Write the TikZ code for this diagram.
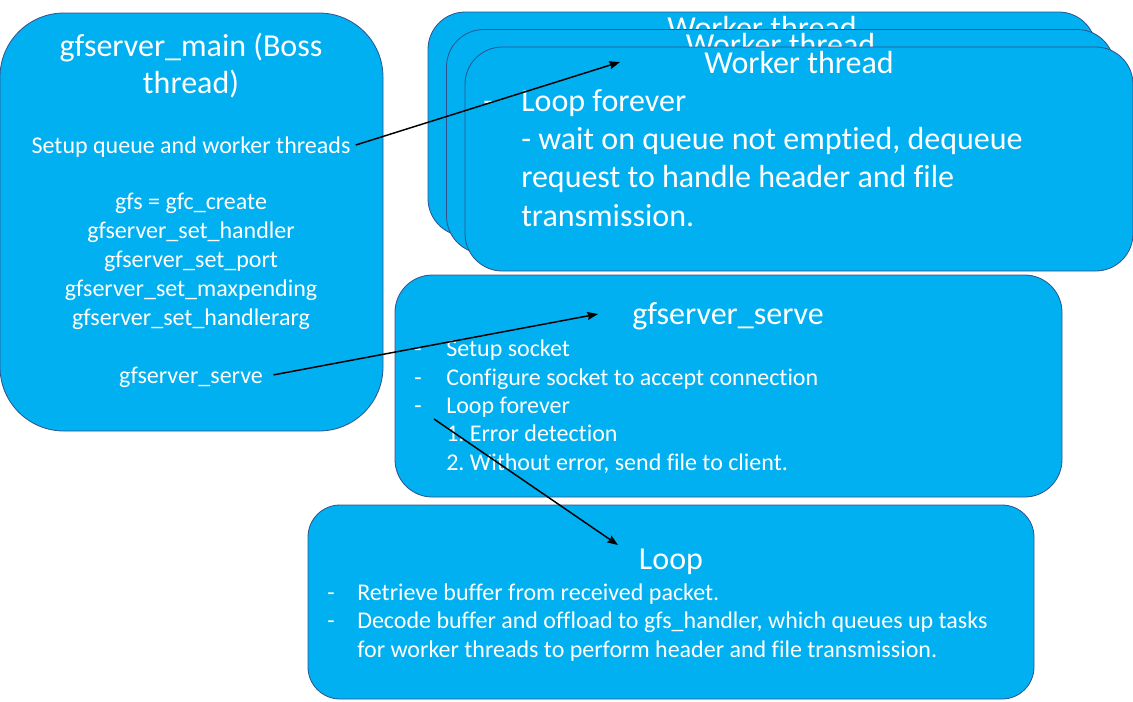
\documentclass[tikz,border=0pt]{standalone}
\usepackage{fontspec}
\setmainfont{Carlito}[Ligatures=NoCommon]
\usetikzlibrary{arrows.meta}
\definecolor{skyblue}{HTML}{00B0F0}
\definecolor{edgeblue}{HTML}{2F528F}
\begin{document}
\begin{tikzpicture}[x=0.75pt,y=-0.75pt,>={Stealth[length=8pt,width=6pt,inset=1pt]},
  box/.style={fill=skyblue,draw=edgeblue,line width=0.6pt},
  head/.style={text=white,inner sep=0pt,font=\fontsize{24}{27.75}\selectfont,align=center,anchor=base},
  item/.style={text=white,inner sep=0pt,font=\fontsize{18}{21.6}\selectfont,anchor=base west},
  bigitem/.style={text=white,inner sep=0pt,font=\fontsize{24}{28.7}\selectfont,anchor=base west,align=left}]
\useasboundingbox (0,0) rectangle (1133,701);
% boss thread (base anchor of a multi-line node sits on its last line)
\draw[box,rounded corners=48pt] (0,13) rectangle (383,431);
\node[head] (bosshead) at (191,93) {gfserver\_main (Boss\\thread)};
\node[item,anchor=base] (setup) at (191,153) {Setup queue and worker threads};
\node[item,anchor=base,align=center] (calls) at (191,325) {gfs = gfc\_create\\gfserver\_set\_handler\\gfserver\_set\_port\\gfserver\_set\_maxpending\\gfserver\_set\_handlerarg};
\node[item,anchor=base] (serve) at (191,383) {gfserver\_serve};
% worker threads, stacked
\foreach \d/\n in {0/back,1/mid,2/front}{
  \draw[box,rounded corners=28pt] (428+18.5*\d,12+17.5*\d) rectangle ++(668,224);
  \node[head] (worker\n) at (762+18.5*\d,38+17.5*\d) {Worker thread};
}
\node[bigitem] (wdash) at (483,111) {-};
\node[bigitem] (wloop) at (521,226) {Loop forever\\- wait on queue not emptied, dequeue\\request to handle header and file\\transmission.};
% gfserver_serve
\draw[box,rounded corners=28pt] (395,275) rectangle (1062,497);
\node[head] (servehead) at (728,324) {gfserver\_serve};
\foreach \y in {356,385,413} \node[item] at (414,\y) {-};
\node[item] (sock) at (446,356) {Setup socket};
\node[item] (conf) at (446,385) {Configure socket to accept connection};
\node[item] (sloop) at (446,413) {Loop forever};
\node[item] (err) at (446,441) {1.\ Error detection};
\node[item] (send) at (446,470) {2.\ Without error, send file to client.};
% loop
\draw[box,rounded corners=24pt] (308,505) rectangle (1034,699);
\node[head] (loophead) at (671,569) {Loop};
\foreach \y in {600,628} \node[item] at (327,\y) {-};
\node[item] (retr) at (357,600) {Retrieve buffer from received packet.};
\node[item,align=left] (deco) at (357,657) {Decode buffer and offload to gfs\_handler, which queues up tasks\\for worker threads to perform header and file transmission.};
% arrows
\coordinate (wtip) at (620,62);
\coordinate (stip) at (598,314);
\coordinate (ltail) at (434,419);
\coordinate (ltip) at (618,545);
\draw[->,line width=1.1pt,shorten <=4pt] (setup.east) -- (wtip);
\draw[->,line width=1.1pt,shorten <=8pt] (serve.east) -- (stip);
\draw[->,line width=1.1pt] (ltail) -- (ltip);
\end{tikzpicture}
\end{document}
